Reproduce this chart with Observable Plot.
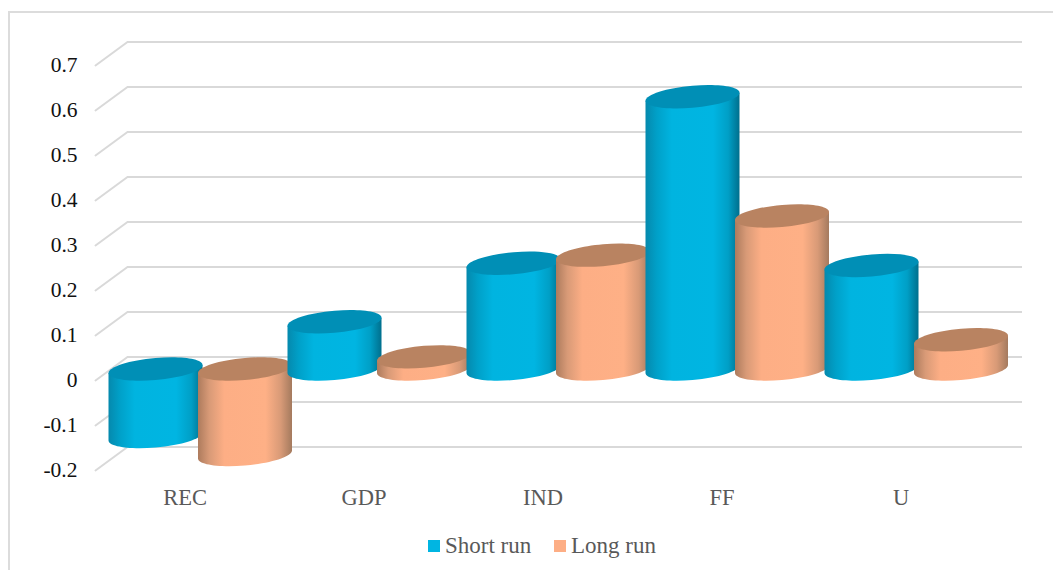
<!DOCTYPE html>
<html>
<head>
<meta charset="utf-8">
<script src="https://cdn.jsdelivr.net/npm/d3@7"></script>
<script src="https://cdn.jsdelivr.net/npm/@observablehq/plot@0.6"></script>
<style>
  html, body { margin: 0; padding: 0; background: #fff; overflow: hidden; }
  body { width: 1053px; height: 570px; position: relative; font-family: "Liberation Serif", serif; }
  #frame { position: absolute; left: 8px; top: 11px; width: 1100px; height: 600px; border: 2px solid #dcdcdc; box-sizing: border-box; }
  #chart { position: absolute; left: 0; top: 0; }
  #chart svg { display: block; overflow: visible; }
  #legend { position: absolute; left: 0; top: 533px; width: 1053px; height: 26px; font-size: 23px; color: #595959; }
  #legend span { position: absolute; top: 0; line-height: 26px; white-space: nowrap; }
  #legend i { position: absolute; top: 7px; width: 12px; height: 12px; }
</style>
</head>
<body>
<div id="frame"></div>
<div id="chart"></div>
<div id="legend"></div>
<script>
// Short-run and long-run responses for each variable
const categories = ["REC", "GDP", "IND", "FF", "U"];
const shortRun = [-0.15, 0.105, 0.235, 0.605, 0.23];
const longRun = [-0.19, 0.027, 0.253, 0.34, 0.065];
const yTicks = [-0.2, -0.1, 0, 0.1, 0.2, 0.3, 0.4, 0.5, 0.6, 0.7];
const seriesNames = ["Short run", "Long run"];

const rows = categories.flatMap((category, i) => [
  {category, series: seriesNames[0], value: shortRun[i]},
  {category, series: seriesNames[1], value: longRun[i]}
]);

// Half width, half height and shear of a cylinder's elliptical ends
const W = 47, H = 11, S = 4, K = 0.5523;
const pt = (u, v) => [W * u, H * v - S * u];

function halfEllipse(ctx, oy, sign) {
  // from the right extreme round to the left extreme, below (sign 1) or above (sign -1)
  const a = pt(1, sign * K), b = pt(K, sign), c = pt(0, sign);
  const d = pt(-K, sign), e = pt(-1, sign * K), f = pt(-1, 0);
  ctx.bezierCurveTo(a[0], a[1] + oy, b[0], b[1] + oy, c[0], c[1] + oy);
  ctx.bezierCurveTo(d[0], d[1] + oy, e[0], e[1] + oy, f[0], f[1] + oy);
}

// Body: two straight sides closed by the lower half of the bottom ellipse
const bodyShape = {
  draw(ctx, l) {
    const left = pt(-1, 0), right = pt(1, 0);
    ctx.moveTo(left[0], left[1]);
    ctx.lineTo(right[0], right[1]);
    ctx.lineTo(right[0], right[1] + l);
    halfEllipse(ctx, l, 1);
    ctx.closePath();
  }
};

// Cap: the whole top ellipse
const capShape = {
  draw(ctx) {
    const right = pt(1, 0);
    ctx.moveTo(right[0], right[1]);
    halfEllipse(ctx, 0, 1);
    const a = pt(-1, -K), b = pt(-K, -1), c = pt(0, -1), d = pt(K, -1), e = pt(1, -K);
    ctx.bezierCurveTo(a[0], a[1], b[0], b[1], c[0], c[1]);
    ctx.bezierCurveTo(d[0], d[1], e[0], e[1], right[0], right[1]);
    ctx.closePath();
  }
};

// Diagonal gridline segment running from the front plane to the back wall
const sideShape = {
  draw(ctx) {
    ctx.moveTo(0, 0);
    ctx.lineTo(0, -39.7);
  }
};

const styles = {
  "Short run": {
    gradient: "grad-short", cap: "#008fb6", swatch: "#00b5e2", dx: -29.5,
    stops: [[0, "#0589ad"], [0.12, "#00a0c8"], [0.28, "#00b4e0"], [0.72, "#00b5e2"], [0.88, "#009fc6"], [1, "#006f8d"]]
  },
  "Long run": {
    gradient: "grad-long", cap: "#b98361", swatch: "#fdae85", dx: 60,
    stops: [[0, "#ad7b5d"], [0.12, "#d89a77"], [0.28, "#fdae85"], [0.72, "#feb086"], [0.88, "#d89a77"], [1, "#a47a5e"]]
  }
};

function gradients() {
  const defs = d3.create("svg:defs");
  for (const s of Object.values(styles)) {
    const g = defs.append("linearGradient").attr("id", s.gradient)
      .attr("x1", 0).attr("x2", 1).attr("y1", 0).attr("y2", 0);
    for (const [o, c] of s.stops) g.append("stop").attr("offset", o).attr("stop-color", c);
  }
  return defs.node();
}

const grid = {stroke: "#d9d9d9", strokeWidth: 2};

const cylinders = rows.flatMap((d) => {
  const s = styles[d.series];
  const top = {...d, upper: Math.max(0, d.value), size: Math.abs(d.value)};
  const common = {x: "category", y: "upper", anchor: "start", dx: s.dx, dy: -11.5, stroke: "none"};
  return [
    Plot.vector([top], {...common, length: "size", shape: bodyShape, fill: `url(#${s.gradient})`}),
    Plot.vector([top], {...common, length: 1, shape: capShape, fill: s.cap})
  ];
});

const chart = Plot.plot({
  width: 1053,
  height: 520,
  marginTop: 65,
  marginBottom: 50,
  marginLeft: 95,
  marginRight: 63,
  style: {background: "transparent", fontFamily: "Liberation Serif, serif", overflow: "visible"},
  x: {type: "band", domain: categories, padding: 0},
  y: {domain: [-0.2, 0.7]},
  length: {type: "linear", domain: [0, 0.9], range: [0, 405]},
  marks: [
    gradients,
    Plot.ruleY(yTicks, {...grid, dx: 32, dy: -23.5}),
    Plot.vector(yTicks, {
      y: (d) => d, frameAnchor: "left", anchor: "start", length: 1, rotate: 53.7,
      shape: sideShape, ...grid
    }),
    ...cylinders,
    Plot.axisY({
      ticks: yTicks, tickSize: 0, tickPadding: 18, label: null,
      tickFormat: (d) => String(d), fontSize: 21.5, fill: "#111"
    }),
    Plot.axisX({
      tickSize: 0, tickPadding: 19, label: null, fontSize: 22.5, fill: "#595959"
    })
  ]
});
document.getElementById("chart").append(chart);

// Legend under the chart
const legend = d3.select("#legend");
[[428, 445], [554, 571]].forEach(([sx, tx], i) => {
  legend.append("i").style("left", sx + "px").style("background", styles[seriesNames[i]].swatch);
  legend.append("span").style("left", tx + "px").text(seriesNames[i]);
});
</script>
</body>
</html>
